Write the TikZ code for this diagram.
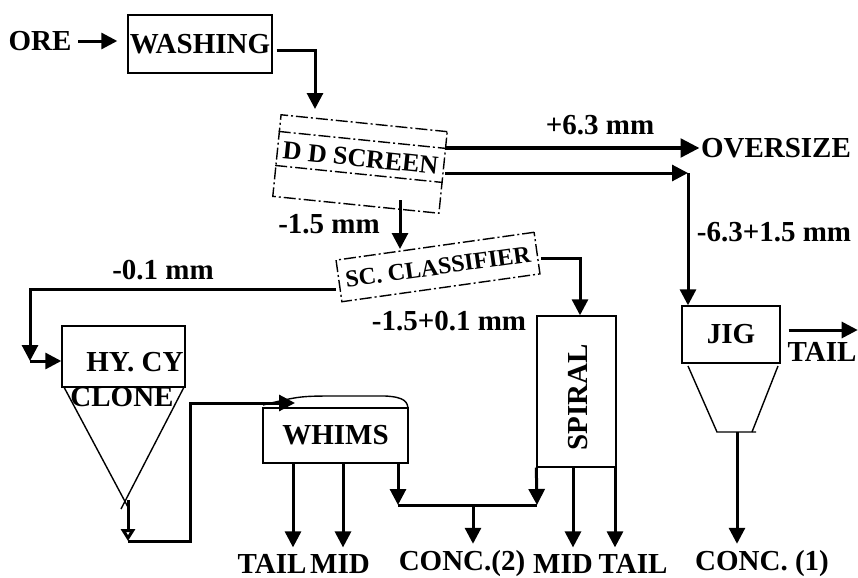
\documentclass[tikz,border=0pt]{standalone}
\usepackage{fontspec}
\setmainfont{Liberation Serif}
\usetikzlibrary{arrows.meta,calc}

\begin{document}
\begin{tikzpicture}[
  x=0.5pt, y=-0.5pt,
  every node/.style = {font=\fontsize{14.5}{16}\selectfont\bfseries},
  flow/.style = {line width=1.5pt, -{Triangle[length=8pt,width=8pt]}},
  unit/.style = {draw, line width=0.7pt, inner sep=0pt},
  dashbox/.style = {unit, dash pattern=on 6pt off 1.5pt on 1pt off 1.5pt},
  small/.style = {font=\fontsize{13}{15}\selectfont\bfseries},
]
\useasboundingbox (0,0) rectangle (858,578);

% ── Units ─────────────────────────────────────────────────────────────────
\node[unit, minimum width=72pt, minimum height=29pt] (washing) at (200,44) {WASHING};

\node[dashbox, minimum width=83.5pt, minimum height=41pt, rotate=-5.8] (dd) at (360,164) {};
\draw[line width=0.7pt, dash pattern=on 6pt off 1.5pt on 1pt off 1.5pt]
  ($(dd.north west)!0.21!(dd.south west)$) -- ($(dd.north east)!0.21!(dd.south east)$);
\draw[line width=0.7pt, dash pattern=on 6pt off 1.5pt on 1pt off 1.5pt]
  ($(dd.north west)!0.62!(dd.south west)$) -- ($(dd.north east)!0.62!(dd.south east)$);
\node[small, rotate=-5.8] (ddtxt) at ($(dd.north)!0.43!(dd.south)$) {D D SCREEN};

\node[dashbox, font=\fontsize{12}{14}\selectfont\bfseries, minimum width=100pt, minimum height=21pt, rotate=8]
  (scl) at (438,267) {SC. CLASSIFIER};

% hydrocyclone: box on a cone
\node[unit, minimum width=61.5pt, minimum height=30.5pt] (hycy) at (123.5,356.5) {};
\node (hytxt) at (135,362) {HY. CY};
\node (cltxt) at (122,397) {CLONE};
\coordinate (apex) at (128,500);
\draw[line width=0.7pt] ($(hycy.south west)+(3,0)$) -- (129,509);
\draw[line width=0.7pt] ($(hycy.south east)+(-2,0)$) -- (121,509);

\node[unit, minimum width=72.5pt, minimum height=27.5pt] (whims) at (335.5,435.5) {WHIMS};
\draw[line width=0.7pt] (263,405) .. controls (300,396) .. (340,396) -- (385,396)
  .. controls (405,397) and (408,402) .. (408,410);

\node[unit, minimum width=39.5pt, minimum height=75.5pt] (spiral) at (576.5,391.5) {};
\node[rotate=90] (sptxt) at (578,397) {SPIRAL};

\node[unit, minimum width=49pt, minimum height=28.5pt] (jig) at (731,334.5) {JIG};
\draw[line width=0.7pt] (688,366) -- (717,432) -- (756,432);
\draw[line width=0.7pt] (778,366) -- (752,432);

% ── Texts ─────────────────────────────────────────────────────────────────
\node (ore) at (40,41) {ORE};
\node[inner sep=0.5pt] (over) at (776,148) {OVERSIZE};
\node (l63) at (600,125) {+6.3 mm};
\node (l6315) at (774,232) {-6.3+1.5 mm};
\node (l15) at (329,224) {-1.5 mm};
\node (l01) at (163,270) {-0.1 mm};
\node (l1501) at (449,321) {-1.5+0.1 mm};
\node (tl3) at (822,352) {TAIL};

\node (tl1) at (272,564) {TAIL};
\node (md1) at (340,564) {MID};
\node (conc2) at (462,564) {CONC.(2)};
\node (md2) at (563,564) {MID};
\node (tl2) at (633,564) {TAIL};
\node (conc1) at (762,564) {CONC. (1)};

% ── Flows ─────────────────────────────────────────────────────────────────
\draw[flow, shorten >=5pt] (ore.east) -- (ore.east -| washing.west);
\coordinate (ddin) at (315,109);
\draw[flow] ([xshift=2pt, yshift=-3pt]washing.east) -| (ddin);

% screen products
\coordinate (dda) at (445,148);
\draw[line width=2.4pt, -{Triangle[length=9.5pt,width=9pt]}] (dda) -- (over.west);
\coordinate (ddb) at (445,173);
\coordinate (jc) at (688,173);
\draw[flow] (ddb) -- (jc);
\draw[flow] (jc) -- (jc |- jig.north);
\coordinate (ddc) at (400,200);
\coordinate (scin) at (400,249);
\draw[flow] (ddc) -- (scin);

% classifier products
\coordinate (scw) at (336,289);
\coordinate (hyin) at (30,361);
\draw[flow] (scw) -| (hyin);
\draw[flow] (hyin) -- (hyin -| hycy.west);
\coordinate (sce) at (541,258);
\draw[flow] (sce) -| ([xshift=1.75pt]spiral.north);

% cyclone underflow to WHIMS
\coordinate (hylow) at (128,541);
\draw[line width=1.5pt, -{Triangle[open,length=6pt,width=7pt]}] (apex) -- (hylow);
\coordinate (hyturn) at (190,403);
\coordinate (whin) at (295,403);
\draw[flow] (hylow) -| (hyturn) -- (whin);

% WHIMS products
\coordinate (wt) at (293,463);
\coordinate (wm) at (343,463);
\coordinate (wc) at (398,463);
\draw[flow] (wt) -- (wt |- tl1.north);
\draw[flow] (wm) -- (wm |- md1.north);
\coordinate (spc) at (537,505);
\draw[flow] (wc) -- (wc |- spc);
\draw[line width=1.5pt] (wc |- spc) -- (spc);
\draw[flow] (spiral.south west) -- (spc);
\coordinate (cc) at (473,505);
\draw[flow] (cc) -- (cc |- conc2.north);

% spiral products
\coordinate (sm) at (573,467);
\coordinate (st) at (615,467);
\draw[flow] (sm) -- (sm |- md2.north);
\draw[flow] (st) -- (st |- tl2.north);

% jig products
\coordinate (jb) at (737,432);
\draw[flow] (jb) -- (jb |- conc1.north);
\draw[flow] ([xshift=4pt, yshift=2.25pt]jig.east) -- ++(69,0);

\end{tikzpicture}
\end{document}
